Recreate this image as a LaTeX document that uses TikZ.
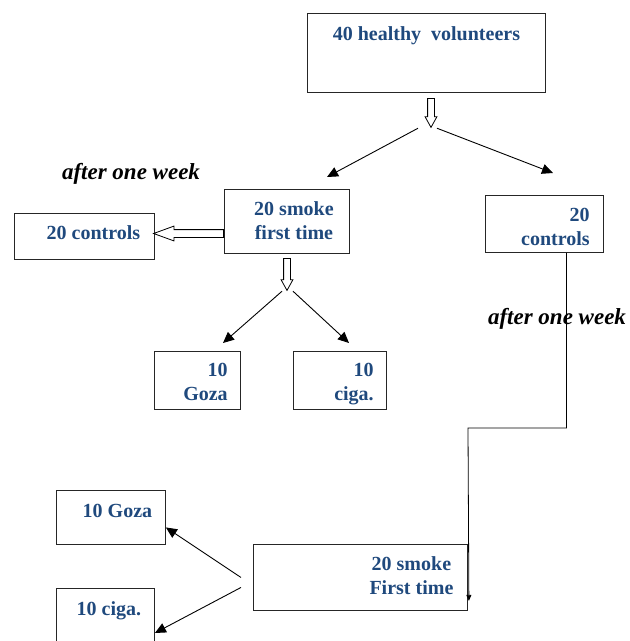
\documentclass[tikz,border=0pt]{standalone}
\usepackage{fontspec}
\setmainfont{Liberation Serif}
\usepackage{xcolor}
\usetikzlibrary{arrows.meta, shapes.arrows, positioning}
\definecolor{groupblue}{RGB}{31,73,125}
\tikzset{
  box/.style={draw=black!85, line width=0.9pt, anchor=north west, inner sep=0pt},
  lbl/.style={inner sep=0pt, text=groupblue, font=\fontsize{20}{24}\selectfont\bfseries},
  note/.style={inner sep=0pt, font=\fontsize{23}{27}\selectfont\bfseries\itshape},
  arr/.style={line width=0.9pt, -{Triangle[length=11pt,width=10pt]}},
  hollow/.style={draw=black, line width=0.8pt, fill=white, single arrow, inner xsep=0pt,
    inner ysep=3pt, single arrow head extend=2.5pt, minimum width=11pt, single arrow tip angle=58},
  hollowwide/.style={hollow, inner ysep=3.5pt, single arrow head extend=3.5pt,
    minimum width=14pt, single arrow tip angle=40}
}
\begin{document}
\begin{tikzpicture}[x=1pt, y=-1pt]
    \useasboundingbox (0,0) rectangle (630,641);
    \clip (0,0) rectangle (630,641);
    % Cajas
    \node[box, minimum width=238pt, minimum height=79pt,
      label={[lbl, anchor=north, yshift=-13pt]north:{40 healthy\ \ volunteers}}] (top) at (307,13) {};
    \node[box, minimum width=125pt, minimum height=64pt,
      label={[lbl, align=center, anchor=north, xshift=7pt, yshift=-12.5pt]north:{20 smoke\\first time}}] (smokeA) at (224,189) {};
    \node[box, minimum width=140pt, minimum height=46pt,
      label={[lbl, anchor=north, xshift=9pt, yshift=-12.7pt]north:{20 controls}}] (ctrlL) at (14,213) {};
    \node[box, minimum width=118pt, minimum height=57pt,
      label={[lbl, align=right, anchor=north east, xshift=-14pt, yshift=-13pt]north east:{20\\controls}}] (ctrlR) at (485,195) {};
    \node[box, minimum width=86pt, minimum height=58pt,
      label={[lbl, align=right, anchor=north east, xshift=-13pt, yshift=-12pt]north east:{10\\Goza}}] (gozaA) at (154,351) {};
    \node[box, minimum width=93pt, minimum height=58pt,
      label={[lbl, align=right, anchor=north east, xshift=-13pt, yshift=-12pt]north east:{10\\ciga.}}] (cigaA) at (293,351) {};
    \node[box, minimum width=214pt, minimum height=66pt,
      label={[lbl, align=center, anchor=north, xshift=51pt, yshift=-12.5pt]north:{20 smoke\\First time}}] (smokeB) at (253,544) {};
    \node[box, minimum width=109pt, minimum height=54pt,
      label={[lbl, anchor=north, xshift=6.5pt, yshift=-14pt]north:{10 Goza}}] (gozaB) at (56,490) {};
    \node[box, minimum width=98pt, minimum height=70pt,
      label={[lbl, anchor=north, xshift=3.5pt, yshift=-13.7pt]north:{10 ciga.}}] (cigaB) at (56,588) {};
    % Textos
    \node[note] (weekA) at (131,174) {after one week};
    \node[note] (weekB) at (557,319) {after one week};
    % Flechas huecas
    \node[hollow, rotate=-90, anchor=tail, minimum height=29pt] (downA) at (431,98) {};
    \node[hollow, rotate=-90, anchor=tail, minimum height=32pt] (downB) at (287,258) {};
    \node[hollowwide, rotate=180, anchor=tail, minimum height=70pt] (back) at (224,233.5) {};
    % Flechas
    \coordinate (tipL) at (327,177);
    \coordinate (tipR) at (553,173);
    \draw[arr] ([xshift=-13pt]downA.tip) -- (tipL);
    \draw[arr] ([xshift=6pt]downA.tip) -- (tipR);
    \draw[arr] ([xshift=-5pt]downB.tip) -- ([xshift=69pt, yshift=8pt]gozaA.north west);
    \draw[arr] ([xshift=6pt]downB.tip) -- ([xshift=56pt, yshift=8pt]cigaA.north west);
    \coordinate (bend) at (468,428);
    \draw[line width=0.8pt, -{Triangle[length=6pt,width=5pt]}]
      ([xshift=22pt]ctrlR.south) |- (bend) -- ([xshift=1pt, yshift=10pt]smokeB.south east);
    \draw[arr] ([xshift=-12pt]smokeB.west) -- ([yshift=-10pt]gozaB.east);
    \draw[arr] ([xshift=-12pt, yshift=-10pt]smokeB.west) -- ([yshift=-45pt]cigaB.north east);
\end{tikzpicture}
\end{document}
